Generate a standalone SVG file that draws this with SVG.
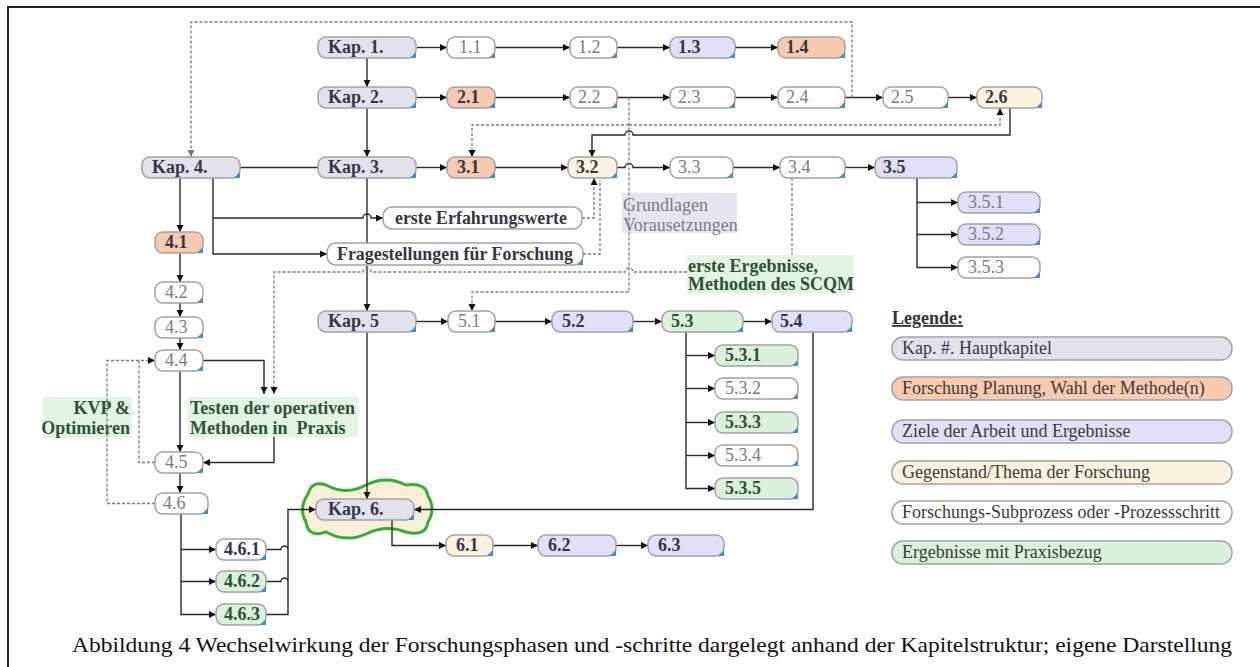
<svg xmlns="http://www.w3.org/2000/svg" xmlns:xlink="http://www.w3.org/1999/xlink" width="1260" height="667" viewBox="0 0 1260 667">
<style>
text{font-family:"Liberation Serif","Times New Roman",serif}
.node rect{stroke:#a2a2a8;stroke-width:1.5}
.kap rect{fill:#e2e2ec}
.sal rect{fill:#f8cab0}
.lav rect{fill:#e0e0f8}
.cre rect{fill:#fcf3df}
.wht rect{fill:#ffffff}
.grn rect{fill:#daf2da}
.b{font-size:18px;font-weight:bold;fill:#363646}
.r{font-size:18px;fill:#7c7c7c}
.gb{font-size:18px;font-weight:bold;fill:#2f5236}
.c{fill:none;stroke:#2a2a2a;stroke-width:1.4}
.d{fill:none;stroke:#7a7a7a;stroke-width:1.3;stroke-dasharray:3 2}
.lg rect{stroke:#a2a2a8;stroke-width:1.5}
.lt{font-size:18px;fill:#3a3a3a}
</style>
<defs>
<marker id="ah" markerUnits="userSpaceOnUse" markerWidth="8" markerHeight="8" refX="7" refY="3.5" orient="auto"><path d="M0,0 L7,3.5 L0,7 z" fill="#111"/></marker>
<marker id="ahg" markerUnits="userSpaceOnUse" markerWidth="8" markerHeight="8" refX="7" refY="3.5" orient="auto"><path d="M0,0 L7,3.5 L0,7 z" fill="#777"/></marker>
<path id="cm" d="M0,0 h-6 l6,-6 z" fill="#3d8ee0"/>
</defs>
<rect width="1260" height="667" fill="#fff"/>
<path d="M8,667 V7 H1260" fill="none" stroke="#222" stroke-width="2"/>

<g id="cloud6"><path d="M308,494 Q312,480 326,485 Q346,496 366,485 Q386,475 406,485 Q426,482 428,496 Q436,509 428,522 Q426,537 406,532 Q386,524 366,534 Q346,543 326,532 Q308,538 306,522 Q298,509 308,494 Z" fill="#fbefd9" stroke="#2fb02f" stroke-width="3"/></g>

<g id="labels">
<rect x="188" y="397" width="170" height="40" fill="#e2f5e2"/>
<text class="gb" x="190" y="414" textLength="165" lengthAdjust="spacingAndGlyphs">Testen der operativen</text>
<text class="gb" x="190" y="434" xml:space="preserve">Methoden in  Praxis</text>
<rect x="43" y="397" width="89" height="41" fill="#e2f5e2"/>
<text class="gb" x="130" y="414" text-anchor="end">KVP &amp;</text>
<text class="gb" x="130" y="434" text-anchor="end">Optimieren</text>
<rect x="622" y="193" width="115" height="40" fill="#e6e6f2"/>
<text class="r" x="623" y="211">Grundlagen</text>
<text class="r" x="623" y="231">Vorausetzungen</text>
<rect x="687" y="255" width="166" height="38" fill="#e2f5e2"/>
<text class="gb" x="688" y="272">erste Ergebnisse,</text>
<text class="gb" x="688" y="290">Methoden des SCQM</text>
</g>

<g id="connectors">
<path class="c" marker-end="url(#ah)" d="M417,47.5 H447"/>
<path class="c" marker-end="url(#ah)" d="M495,47.5 H570"/>
<path class="c" marker-end="url(#ah)" d="M617,47.5 H670"/>
<path class="c" marker-end="url(#ah)" d="M735,47.5 H778"/>
<path class="c" marker-end="url(#ah)" d="M367,58 V87"/>
<path class="c" marker-end="url(#ah)" d="M417,97.5 H447"/>
<path class="c" marker-end="url(#ah)" d="M495,97.5 H570"/>
<path class="c" marker-end="url(#ah)" d="M617,97.5 H670"/>
<path class="c" marker-end="url(#ah)" d="M735,97.5 H778"/>
<path class="c" marker-end="url(#ah)" d="M845,97.5 H883"/>
<path class="c" marker-end="url(#ah)" d="M948,97.5 H977"/>
<path class="c" marker-end="url(#ah)" d="M367,108 V157"/>
<path class="c" d="M240,167.5 H318"/>
<path class="c" marker-end="url(#ah)" d="M416,167.5 H447"/>
<path class="c" marker-end="url(#ah)" d="M495,167.5 H568"/>
<path class="c" marker-end="url(#ah)" d="M617,167.5 H625 a4,4 0 0 1 8,0 H670"/>
<path class="c" marker-end="url(#ah)" d="M733,167.5 H780"/>
<path class="c" marker-end="url(#ah)" d="M845,167.5 H875"/>
<path class="c" marker-end="url(#ah)" d="M917,178 V267.5 H958"/>
<path class="c" marker-end="url(#ah)" d="M917,202.5 H958"/>
<path class="c" marker-end="url(#ah)" d="M917,234.5 H958"/>
<path class="c" marker-end="url(#ah)" d="M1010,108 V135 H633 a4,4 0 0 0 -8,0 H592 V157"/>
<path class="c" marker-end="url(#ah)" d="M367,178 V311"/>
<path class="c" marker-end="url(#ah)" d="M180,178 V232"/>
<path class="c" marker-end="url(#ah)" d="M213,178 V254 H327"/>
<path class="c" marker-end="url(#ah)" d="M213,218 H363 a4,4 0 0 1 8,0 H383"/>
<path class="c" marker-end="url(#ah)" d="M180,253 V282"/>
<path class="c" marker-end="url(#ah)" d="M180,303 V317"/>
<path class="c" marker-end="url(#ah)" d="M180,338 V350"/>
<path class="c" marker-end="url(#ah)" d="M180,371 V452"/>
<path class="c" marker-end="url(#ah)" d="M180,473 V493"/>
<path class="c" marker-end="url(#ah)" d="M203,360.5 H264 V394"/>
<path class="c" marker-end="url(#ah)" d="M274,437 V462.5 H203"/>
<path class="c" marker-end="url(#ah)" d="M181,514 V614.5 H216"/>
<path class="c" marker-end="url(#ah)" d="M181,549.5 H216"/>
<path class="c" marker-end="url(#ah)" d="M181,581.5 H216"/>
<path class="c" marker-end="url(#ah)" d="M266,614.5 H288 V509.5 H316"/>
<path class="c" d="M266,549.5 H281 a3.5,3.5 0 0 1 7,0"/>
<path class="c" d="M266,581.5 H281 a3.5,3.5 0 0 1 7,0"/>
<path class="c" marker-end="url(#ah)" d="M416,321.5 H448"/>
<path class="c" marker-end="url(#ah)" d="M495,321.5 H552"/>
<path class="c" marker-end="url(#ah)" d="M633,321.5 H662"/>
<path class="c" marker-end="url(#ah)" d="M743,321.5 H772"/>
<path class="c" marker-end="url(#ah)" d="M686,332 V488.5 H715"/>
<path class="c" marker-end="url(#ah)" d="M686,355.5 H715"/>
<path class="c" marker-end="url(#ah)" d="M686,388.5 H715"/>
<path class="c" marker-end="url(#ah)" d="M686,422.5 H715"/>
<path class="c" marker-end="url(#ah)" d="M686,455.5 H715"/>
<path class="c" marker-end="url(#ah)" d="M813,332 V509.5 H414"/>
<path class="c" marker-end="url(#ah)" d="M367,332 V499"/>
<path class="c" marker-end="url(#ah)" d="M392,520 V545.5 H446"/>
<path class="c" marker-end="url(#ah)" d="M493,545.5 H538"/>
<path class="c" marker-end="url(#ah)" d="M616,545.5 H648"/>
<path class="d" marker-end="url(#ahg)" d="M852,97.5 V22 H191 V157"/>
<path class="d" marker-end="url(#ah)" d="M629,97.5 V292 H472 V311"/>
<path class="d" marker-end="url(#ah)" d="M629,125 H472 V157"/>
<path class="d" marker-end="url(#ah)" d="M629,125 H1000 V108"/>
<path class="d" marker-end="url(#ah)" d="M582,218 H594 V178"/>
<path class="d" d="M583,254 H600 V180"/>
<path class="d" d="M792,178 V255"/>
<path class="d" marker-end="url(#ah)" d="M687,272 H633 a4,4 0 0 0 -8,0 H371 a4,4 0 0 0 -8,0 H274 V394"/>
<path class="d" marker-end="url(#ah)" d="M155,503.5 H107 V360.5 H155"/>
<path class="d" d="M155,462.5 H139 V360.5"/>
</g>

<g id="n-kap1" class="node kap"><rect x="318" y="37" width="98" height="21" rx="8"/><text class="b" x="328" y="53">Kap. 1.</text><use xlink:href="#cm" x="416" y="58"/></g>
<g id="n-1-1" class="node wht"><rect x="447" y="37" width="48" height="21" rx="8"/><text class="r" x="459" y="53">1.1</text><use xlink:href="#cm" x="495" y="58"/></g>
<g id="n-1-2" class="node wht"><rect x="570" y="37" width="47" height="21" rx="8"/><text class="r" x="578" y="53">1.2</text><use xlink:href="#cm" x="617" y="58"/></g>
<g id="n-1-3" class="node lav"><rect x="670" y="37" width="65" height="21" rx="8"/><text class="b" x="678" y="53">1.3</text><use xlink:href="#cm" x="735" y="58"/></g>
<g id="n-1-4" class="node sal"><rect x="778" y="37" width="67" height="21" rx="8"/><text class="b" x="786" y="53">1.4</text><use xlink:href="#cm" x="845" y="58"/></g>

<g id="n-kap2" class="node kap"><rect x="318" y="87" width="98" height="21" rx="8"/><text class="b" x="328" y="103">Kap. 2.</text><use xlink:href="#cm" x="416" y="108"/></g>
<g id="n-2-1" class="node sal"><rect x="447" y="87" width="48" height="21" rx="8"/><text class="b" x="457" y="103">2.1</text><use xlink:href="#cm" x="495" y="108"/></g>
<g id="n-2-2" class="node wht"><rect x="570" y="87" width="47" height="21" rx="8"/><text class="r" x="578" y="103">2.2</text><use xlink:href="#cm" x="617" y="108"/></g>
<g id="n-2-3" class="node wht"><rect x="670" y="87" width="65" height="21" rx="8"/><text class="r" x="678" y="103">2.3</text><use xlink:href="#cm" x="735" y="108"/></g>
<g id="n-2-4" class="node wht"><rect x="778" y="87" width="67" height="21" rx="8"/><text class="r" x="786" y="103">2.4</text><use xlink:href="#cm" x="845" y="108"/></g>
<g id="n-2-5" class="node wht"><rect x="883" y="87" width="65" height="21" rx="8"/><text class="r" x="891" y="103">2.5</text><use xlink:href="#cm" x="948" y="108"/></g>
<g id="n-2-6" class="node cre"><rect x="977" y="87" width="65" height="21" rx="8"/><text class="b" x="985" y="103">2.6</text><use xlink:href="#cm" x="1042" y="108"/></g>

<g id="n-kap4" class="node kap"><rect x="142" y="157" width="98" height="21" rx="8"/><text class="b" x="152" y="173">Kap. 4.</text><use xlink:href="#cm" x="240" y="178"/></g>
<g id="n-kap3" class="node kap"><rect x="318" y="157" width="98" height="21" rx="8"/><text class="b" x="328" y="173">Kap. 3.</text><use xlink:href="#cm" x="416" y="178"/></g>
<g id="n-3-1" class="node sal"><rect x="447" y="157" width="48" height="21" rx="8"/><text class="b" x="457" y="173">3.1</text><use xlink:href="#cm" x="495" y="178"/></g>
<g id="n-3-2" class="node cre"><rect x="568" y="157" width="49" height="21" rx="8"/><text class="b" x="576" y="173">3.2</text><use xlink:href="#cm" x="617" y="178"/></g>
<g id="n-3-3" class="node wht"><rect x="670" y="157" width="63" height="21" rx="8"/><text class="r" x="678" y="173">3.3</text><use xlink:href="#cm" x="733" y="178"/></g>
<g id="n-3-4" class="node wht"><rect x="780" y="157" width="65" height="21" rx="8"/><text class="r" x="788" y="173">3.4</text><use xlink:href="#cm" x="845" y="178"/></g>
<g id="n-3-5" class="node lav"><rect x="875" y="157" width="82" height="21" rx="8"/><text class="b" x="883" y="173">3.5</text><use xlink:href="#cm" x="957" y="178"/></g>
<g id="n-3-5-1" class="node lav"><rect x="958" y="192" width="82" height="21" rx="8"/><text class="r" x="968" y="208">3.5.1</text><use xlink:href="#cm" x="1040" y="213"/></g>
<g id="n-3-5-2" class="node lav"><rect x="958" y="224" width="82" height="21" rx="8"/><text class="r" x="968" y="240">3.5.2</text><use xlink:href="#cm" x="1040" y="245"/></g>
<g id="n-3-5-3" class="node wht"><rect x="958" y="257" width="82" height="21" rx="8"/><text class="r" x="968" y="273">3.5.3</text><use xlink:href="#cm" x="1040" y="278"/></g>

<g id="n-erfahrung" class="node wht"><rect x="383" y="207" width="199" height="22" rx="9"/><text class="b" x="395" y="224" textLength="172" lengthAdjust="spacingAndGlyphs">erste Erfahrungswerte</text></g>
<g id="n-fragen" class="node wht"><rect x="327" y="243" width="256" height="22" rx="9"/><text class="b" x="337" y="260" textLength="236" lengthAdjust="spacingAndGlyphs">Fragestellungen für Forschung</text><use xlink:href="#cm" x="583" y="265"/></g>

<g id="n-4-1" class="node sal"><rect x="155" y="232" width="48" height="21" rx="8"/><text class="b" x="165" y="248">4.1</text><use xlink:href="#cm" x="203" y="253"/></g>
<g id="n-4-2" class="node wht"><rect x="155" y="282" width="48" height="21" rx="8"/><text class="r" x="165" y="298">4.2</text><use xlink:href="#cm" x="203" y="303"/></g>
<g id="n-4-3" class="node wht"><rect x="155" y="317" width="48" height="21" rx="8"/><text class="r" x="165" y="333">4.3</text><use xlink:href="#cm" x="203" y="338"/></g>
<g id="n-4-4" class="node wht"><rect x="155" y="350" width="48" height="21" rx="8"/><text class="r" x="165" y="366">4.4</text><use xlink:href="#cm" x="203" y="371"/></g>
<g id="n-4-5" class="node wht"><rect x="155" y="452" width="48" height="21" rx="8"/><text class="r" x="165" y="468">4.5</text><use xlink:href="#cm" x="203" y="473"/></g>
<g id="n-4-6" class="node wht"><rect x="155" y="493" width="53" height="21" rx="8"/><text class="r" x="163" y="509">4.6</text><use xlink:href="#cm" x="208" y="514"/></g>

<g id="n-kap5" class="node kap"><rect x="318" y="311" width="98" height="21" rx="8"/><text class="b" x="328" y="327">Kap. 5</text><use xlink:href="#cm" x="416" y="332"/></g>
<g id="n-5-1" class="node wht"><rect x="448" y="311" width="47" height="21" rx="8"/><text class="r" x="458" y="327">5.1</text><use xlink:href="#cm" x="495" y="332"/></g>
<g id="n-5-2" class="node lav"><rect x="552" y="311" width="81" height="21" rx="8"/><text class="b" x="562" y="327">5.2</text><use xlink:href="#cm" x="633" y="332"/></g>
<g id="n-5-3" class="node grn"><rect x="662" y="311" width="81" height="21" rx="8"/><text class="gb" x="671" y="327">5.3</text><use xlink:href="#cm" x="743" y="332"/></g>
<g id="n-5-4" class="node lav"><rect x="772" y="311" width="80" height="21" rx="8"/><text class="b" x="780" y="327">5.4</text><use xlink:href="#cm" x="852" y="332"/></g>
<g id="n-5-3-1" class="node grn"><rect x="715" y="345" width="83" height="21" rx="8"/><text class="gb" x="725" y="361">5.3.1</text><use xlink:href="#cm" x="798" y="366"/></g>
<g id="n-5-3-2" class="node wht"><rect x="715" y="378" width="83" height="21" rx="8"/><text class="r" x="725" y="394">5.3.2</text><use xlink:href="#cm" x="798" y="399"/></g>
<g id="n-5-3-3" class="node grn"><rect x="715" y="412" width="83" height="21" rx="8"/><text class="gb" x="725" y="428">5.3.3</text><use xlink:href="#cm" x="798" y="433"/></g>
<g id="n-5-3-4" class="node wht"><rect x="715" y="445" width="83" height="21" rx="8"/><text class="r" x="725" y="461">5.3.4</text><use xlink:href="#cm" x="798" y="466"/></g>
<g id="n-5-3-5" class="node grn"><rect x="715" y="478" width="83" height="21" rx="8"/><text class="gb" x="725" y="494">5.3.5</text><use xlink:href="#cm" x="798" y="499"/></g>

<g id="n-kap6" class="node kap"><rect x="316" y="499" width="98" height="21" rx="8"/><text class="b" x="328" y="515">Kap. 6.</text><use xlink:href="#cm" x="414" y="520"/></g>
<g id="n-6-1" class="node cre"><rect x="446" y="535" width="47" height="21" rx="8"/><text class="b" x="456" y="551">6.1</text><use xlink:href="#cm" x="493" y="556"/></g>
<g id="n-6-2" class="node lav"><rect x="538" y="535" width="78" height="21" rx="8"/><text class="b" x="548" y="551">6.2</text><use xlink:href="#cm" x="616" y="556"/></g>
<g id="n-6-3" class="node lav"><rect x="648" y="535" width="76" height="21" rx="8"/><text class="b" x="658" y="551">6.3</text><use xlink:href="#cm" x="724" y="556"/></g>
<g id="n-4-6-1" class="node wht"><rect x="216" y="539" width="50" height="21" rx="8"/><text class="b" x="224" y="555">4.6.1</text><use xlink:href="#cm" x="266" y="560"/></g>
<g id="n-4-6-2" class="node grn"><rect x="216" y="571" width="50" height="21" rx="8"/><text class="gb" x="224" y="587">4.6.2</text><use xlink:href="#cm" x="266" y="592"/></g>
<g id="n-4-6-3" class="node grn"><rect x="216" y="604" width="50" height="21" rx="8"/><text class="gb" x="224" y="620">4.6.3</text><use xlink:href="#cm" x="266" y="625"/></g>

<g id="legend">
<text x="892" y="324" font-size="18" font-weight="bold" fill="#333" text-decoration="underline">Legende:</text>
<g class="lg kap"><rect x="892" y="337" width="340" height="23" rx="11"/><text class="lt" x="902" y="354">Kap. #. Hauptkapitel</text></g>
<g class="lg sal"><rect x="892" y="377" width="340" height="23" rx="11"/><text class="lt" x="902" y="394">Forschung Planung, Wahl der Methode(n)</text></g>
<g class="lg lav"><rect x="892" y="420" width="340" height="23" rx="11"/><text class="lt" x="902" y="437">Ziele der Arbeit und Ergebnisse</text></g>
<g class="lg cre"><rect x="892" y="461" width="340" height="23" rx="11"/><text class="lt" x="902" y="478">Gegenstand/Thema der Forschung</text></g>
<g class="lg wht"><rect x="892" y="501" width="340" height="23" rx="11"/><text class="lt" x="902" y="518">Forschungs-Subprozess oder -Prozessschritt</text></g>
<g class="lg grn"><rect x="892" y="541" width="340" height="23" rx="11"/><text class="lt" x="902" y="558">Ergebnisse mit Praxisbezug</text></g>
</g>

<text id="caption" x="72" y="652" font-size="21" fill="#111" textLength="1160" lengthAdjust="spacingAndGlyphs">Abbildung 4 Wechselwirkung der Forschungsphasen und -schritte dargelegt anhand der Kapitelstruktur; eigene Darstellung</text>
</svg>
